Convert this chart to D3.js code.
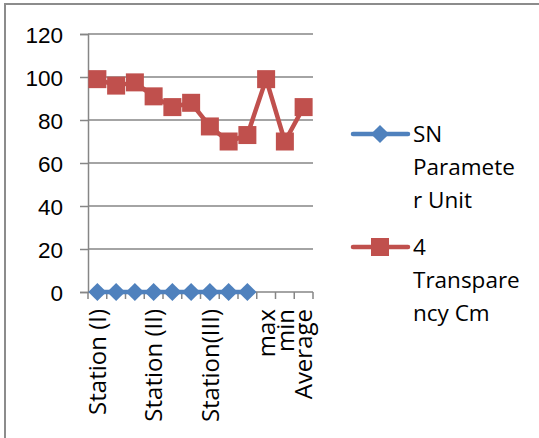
<!DOCTYPE html>
<html>
<head>
<meta charset="utf-8">
<script src="https://cdn.jsdelivr.net/npm/d3@7"></script>
<style>
  body { margin: 0; background: #fff; }
  svg { display: block; font-family: "Open Sans", "Liberation Sans", sans-serif; }
</style>
</head>
<body>
<div id="chart"></div>
<script>
// categories along the x axis (only some carry a label)
const categories = ['c1', 'c2', 'c3', 'c4', 'c5', 'c6', 'c7', 'c8', 'c9', 'c10', 'c11', 'c12'];
const categoryLabels = ['Station (I)', '', '', 'Station (II)', '', '', 'Station(III)', '', '', 'max', 'min', 'Average'];

// series values
const snValues = [0, 0, 0, 0, 0, 0, 0, 0, 0, null, null, null];
const transparencyValues = [99, 96, 97.5, 91, 86, 88, 77, 70, 73, 99, 70, 86];

const yTicks = [0, 20, 40, 60, 80, 100, 120];

const seriesNames = [['SN', 'Paramete', 'r Unit'], ['4', 'Transpare', 'ncy Cm']];
const colors = ['#4F81BD', '#C0504D'];

const width = 539, height = 438;
const margins = { top: 34, right: 226, bottom: 146, left: 88 };

const svg = d3.select('#chart')
  .append('svg')
  .attr('width', width)
  .attr('height', height);

// outer chart border (right/bottom fall outside the picture)
svg.append('rect')
  .attr('x', 5).attr('y', 4)
  .attr('width', 600).attr('height', 500)
  .attr('fill', 'none')
  .attr('stroke', '#8c8c8c')
  .attr('stroke-width', 2);

const x = d3.scaleBand()
  .domain(categories)
  .range([margins.left, width - margins.right]);

const y = d3.scaleLinear()
  .domain([0, 120])
  .range([height - margins.bottom, margins.top]);

// gridlines
svg.append('g')
  .selectAll('line')
  .data(yTicks.filter(d => d > 0))
  .enter()
  .append('line')
  .attr('x1', margins.left)
  .attr('x2', width - margins.right)
  .attr('y1', d => y(d))
  .attr('y2', d => y(d))
  .attr('stroke', '#868686')
  .attr('stroke-width', 1.5);

// y axis
const yAxis = svg.append('g')
  .attr('transform', `translate(${margins.left},0)`)
  .call(d3.axisLeft(y).tickValues(yTicks).tickSize(8).tickPadding(17));
yAxis.select('.domain').attr('stroke', '#868686').attr('stroke-width', 1.5);
yAxis.selectAll('.tick line').attr('stroke', '#868686').attr('stroke-width', 1.5);
yAxis.selectAll('text')
  .attr('fill', '#000')
  .style('font-size', '22.5px')
  .attr('dy', '0.36em');

// x axis: ticks between categories
const xAxisG = svg.append('g')
  .attr('transform', `translate(0,${y(0)})`);
xAxisG.append('line')
  .attr('x1', margins.left).attr('x2', width - margins.right)
  .attr('stroke', '#868686').attr('stroke-width', 1.5);
xAxisG.selectAll('.xtick')
  .data(categories.concat(['end']))
  .enter()
  .append('line')
  .attr('x1', (d, i) => i < categories.length ? x(d) : x.range()[1])
  .attr('x2', (d, i) => i < categories.length ? x(d) : x.range()[1])
  .attr('y1', 0).attr('y2', 7)
  .attr('stroke', '#868686').attr('stroke-width', 1.5);

xAxisG.selectAll('.xlabel')
  .data(categories)
  .enter()
  .append('text')
  .attr('transform', d => `translate(${x(d) + x.bandwidth() / 2},17) rotate(-90)`)
  .attr('text-anchor', 'end')
  .attr('dy', '0.36em')
  .style('font-size', '24px')
  .attr('fill', '#000')
  .text((d, i) => categoryLabels[i]);

// lines
const line = d3.line()
  .defined(d => d.v !== null)
  .x(d => x(d.c) + x.bandwidth() / 2)
  .y(d => y(d.v));

const snData = categories.map((c, i) => ({ c: c, v: snValues[i] }));
const trData = categories.map((c, i) => ({ c: c, v: transparencyValues[i] }));

svg.append('path')
  .datum(snData)
  .attr('fill', 'none')
  .attr('stroke', colors[0])
  .attr('stroke-width', 4.5)
  .attr('stroke-linejoin', 'round')
  .attr('d', line);

svg.append('path')
  .datum(trData)
  .attr('fill', 'none')
  .attr('stroke', colors[1])
  .attr('stroke-width', 4.5)
  .attr('stroke-linejoin', 'round')
  .attr('d', line);

// markers
const diamond = d3.symbol().type(d3.symbolSquare).size(165);
svg.selectAll('.dia')
  .data(snData.filter(d => d.v !== null))
  .enter()
  .append('path')
  .attr('d', diamond)
  .attr('transform', d => `translate(${x(d.c) + x.bandwidth() / 2},${y(d.v)}) rotate(45)`)
  .attr('fill', colors[0]);

svg.selectAll('.sq')
  .data(trData)
  .enter()
  .append('rect')
  .attr('x', d => x(d.c) + x.bandwidth() / 2 - 9)
  .attr('y', d => y(d.v) - 9)
  .attr('width', 18)
  .attr('height', 18)
  .attr('fill', colors[1]);

// legend
const legendY = [134, 247];
const legend = svg.append('g');
seriesNames.forEach((names, i) => {
  const g = legend.append('g').attr('transform', `translate(0,${legendY[i]})`);
  g.append('line')
    .attr('x1', 353).attr('x2', 408)
    .attr('stroke', colors[i]).attr('stroke-width', 4.5)
    .attr('stroke-linecap', 'round');
  if (i === 0) {
    g.append('path')
      .attr('d', diamond)
      .attr('transform', 'translate(380,0) rotate(45)')
      .attr('fill', colors[i]);
  } else {
    g.append('rect')
      .attr('x', 371).attr('y', -9)
      .attr('width', 18).attr('height', 18)
      .attr('fill', colors[i]);
  }
  g.selectAll('text')
    .data(names)
    .enter()
    .append('text')
    .attr('x', 413)
    .attr('y', (d, j) => j * 33)
    .attr('dy', '0.36em')
    .style('font-size', '22.5px')
    .attr('fill', '#000')
    .text(d => d);
});
</script>
</body>
</html>
